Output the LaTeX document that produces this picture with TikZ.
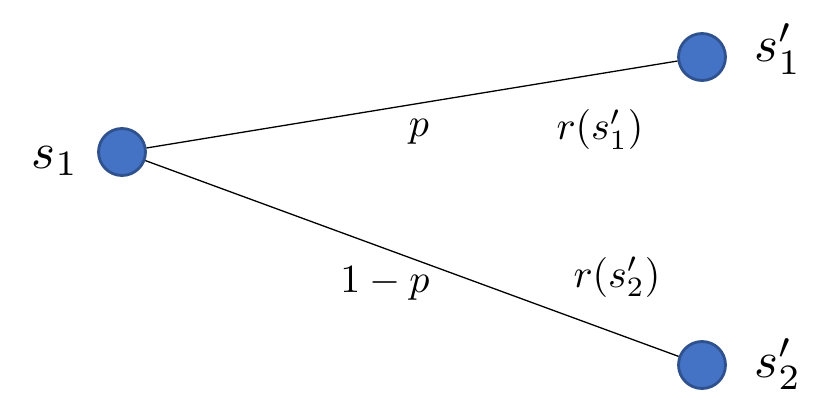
\documentclass[tikz,border=0pt]{standalone}
\usepackage{graphicx}
\definecolor{nodefill}{HTML}{4472C4}
\definecolor{nodeline}{HTML}{2F528F}
\tikzset{
  state/.style={circle, fill=nodefill, draw=nodeline, line width=2.8pt, minimum size=47pt, inner sep=0pt},
  edge/.style={draw=black, line width=1.3pt},
  lbl/.style={anchor=base, inner sep=0pt},
}
\newcommand{\BigLab}[1]{\scalebox{5.1}{$#1$}}
\newcommand{\SmallLab}[1]{\scalebox{4.0}{$#1$}}
\begin{document}
\begin{tikzpicture}[x=1pt,y=-1pt]
\useasboundingbox (0,0) rectangle (837,406);
\node[state] (s1) at (122,152) {};
\node[state] (a) at (702,57) {};
\node[state] (b) at (702,365) {};
\draw[edge] (s1) -- (a);
\draw[edge] (s1) -- (b);
\node[lbl] (l1) at (55,168) {\BigLab{s_1}};
\node[lbl] (la) at (778,62) {\BigLab{s_1'}};
\node[lbl] (lb) at (778,377) {\BigLab{s_2'}};
\node[lbl] (p) at (419,137) {\SmallLab{p}};
\node[lbl] (ra) at (600,140) {\SmallLab{r(s_1')}};
\node[lbl] (q) at (385,292) {\SmallLab{1-p}};
\node[lbl] (rb) at (617,287) {\SmallLab{r(s_2')}};
\end{tikzpicture}
\end{document}
